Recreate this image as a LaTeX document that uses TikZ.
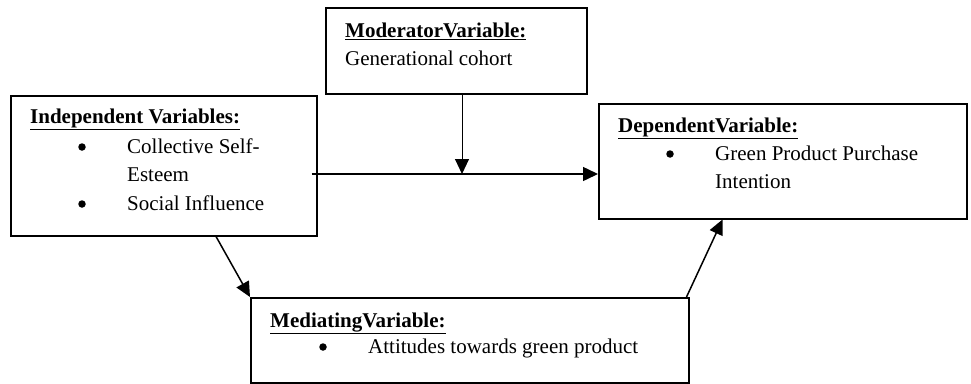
\documentclass[tikz,border=0pt]{standalone}
\usepackage{fontspec}
\setmainfont{Liberation Serif}
\usetikzlibrary{arrows.meta}
\usetikzlibrary{calc}

\tikzset{
	varbox/.style={draw, line width=1.5pt, inner sep=0pt, anchor=north west},
	textline/.style={inner sep=0pt, anchor=base west, font=\fontsize{21}{29}\selectfont},
	bulletdot/.style={circle, fill, inner sep=0pt, minimum size=7.5pt},
	link/.style={->, line width=1.5pt},
	>={Triangle[length=15pt,width=14pt]}
}
\newcommand{\drawVarBox}[5]{
	\node[varbox, minimum width=#4, minimum height=#5] (#1) at (#2,#3) {};
}
\newcommand{\drawHeading}[4]{
	\node[textline] (#1) at (#2,#3) {\underline{\textbf{#4}}};
}
\newcommand{\drawBullet}[4]{
	\node[bulletdot] (#1_dot) at (#2,#3-6) {};
	\node[textline] (#1) at (#2+45,#3) {#4};
}

\begin{document}
\begin{tikzpicture}[x=1pt, y=-1pt]
		\useasboundingbox (0,0) rectangle (971,383);

		\drawVarBox{ind}{10}{95}{306}{140}
		\drawVarBox{mod}{325}{7}{261}{86}
		\drawVarBox{dep}{598}{103}{368}{115}
		\drawVarBox{med}{250}{297}{438}{85}

		\drawHeading{ind_head}{30}{123}{Independent Variables:}
		\drawBullet{ind_cse}{82}{153}{Collective Self-}
		\node[textline] (ind_cse2) at (127,181) {Esteem};
		\drawBullet{ind_si}{82}{210}{Social Influence}

		\drawHeading{mod_head}{345}{37}{ModeratorVariable:}
		\node[textline] (mod_gc) at (345,65) {Generational cohort};

		\drawHeading{dep_head}{618}{132}{DependentVariable:}
		\drawBullet{dep_gppi}{670}{160}{Green Product Purchase}
		\node[textline] (dep_gppi2) at (715,188) {Intention};

		\drawHeading{med_head}{270}{327}{MediatingVariable:}
		\drawBullet{med_att}{323}{353}{Attitudes towards green product}

		\coordinate (split) at (462,174);
		\draw[link] ([xshift=-6pt]ind.east |- split) -- (dep.west |- split);
		\draw[->, line width=1pt] (mod.south -| split) -- (split);
		\draw[link] ($(ind.south west)!0.67!(ind.south east)$) -- (med.north west);
		\draw[link] ([xshift=-3pt]med.north east) -- ($(dep.south west)!0.337!(dep.south east)$);
	\end{tikzpicture}
\end{document}
